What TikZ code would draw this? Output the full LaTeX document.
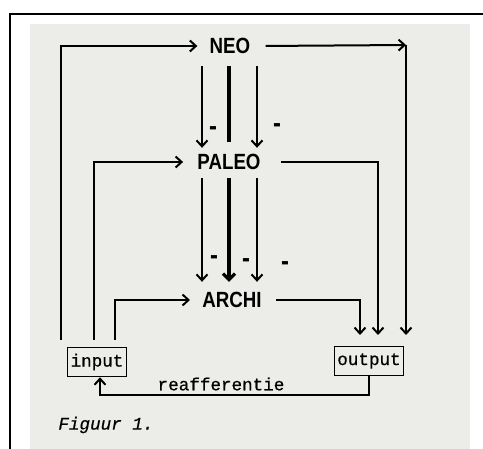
\documentclass[tikz,border=0pt]{standalone}
\usepackage{fontspec}
\usetikzlibrary{arrows.meta}
\newfontfamily\levelfont{Liberation Sans}[FakeStretch=0.85]
\newfontfamily\typefont{Liberation Mono}[FakeBold=0.6]
\definecolor{paper}{RGB}{236,236,232}
\begin{document}
\begin{tikzpicture}[x=0.5pt, y=-0.5pt,
  level/.style={font=\levelfont\bfseries\fontsize{11}{12}\selectfont, inner xsep=6pt, inner ysep=3pt},
  box/.style={draw, line width=0.8pt, font=\typefont\fontsize{8.8}{10}\selectfont, inner xsep=1.5pt, inner ysep=0pt, minimum height=14.5pt},
  plain/.style={font=\typefont\fontsize{8.8}{10}\selectfont, inner sep=0pt},
  minus/.style={font=\levelfont\bfseries\fontsize{14}{15}\selectfont, inner sep=0pt},
  arr/.style={line width=1pt, -{Straight Barb[length=3pt,width=5.5pt]}},
  thickarr/.style={line width=1.6pt, -{Straight Barb[length=3pt,width=6pt]}}
]
  \useasboundingbox (0,0) rectangle (483,449);
  \fill[paper] (30,24) rectangle (470,449);
  \draw[line width=1.2pt] (10,449) -- (10,14) -- (483,14);

  % levels
  \node[level] (neo) at (230,46) {NEO};
  \node[level] (paleo) at (229,162) {PALEO};
  \node[level] (archi) at (232,300) {ARCHI};
  \node[box] (input) at (97,362) {input};
  \node[box] (output) at (369,361) {output};
  \node[plain] (reaflabel) at (221,384) {reafferentie};
  \node[plain, anchor=west] (caption) at (58,425) {\itshape Figuur 1.};

  % columns and corners
  \coordinate (colL) at (202,0);
  \coordinate (colM) at (229,0);
  \coordinate (colR) at (257,0);
  \coordinate (inA) at (61,340);
  \coordinate (inB) at (94,340);
  \coordinate (inC) at (115,340);
  \coordinate (outA) at (360,335);
  \coordinate (outB) at (378,335);
  \coordinate (outC) at (406,335);
  \coordinate (neoTR) at (406,45);
  \coordinate (reaf) at (0,395);

  % neo -> paleo
  \draw[arr, shorten <=3pt] (neo.south -| colL) -- (paleo.north -| colL);
  \draw[line width=1.6pt, shorten <=3pt, shorten >=3pt] (neo.south -| colM) -- (paleo.north -| colM);
  \draw[arr, shorten <=3pt] (neo.south -| colR) -- (paleo.north -| colR);
  \node[minus] (m1) at (213,131) {-};
  \node[minus] (m2) at (277,128) {-};

  % paleo -> archi
  \draw[arr, shorten <=1pt, shorten >=2pt] (paleo.south -| colL) -- (archi.north -| colL);
  \draw[thickarr, shorten <=1pt, shorten >=2pt] (paleo.south -| colM) -- (archi.north -| colM);
  \draw[arr, shorten <=1pt, shorten >=2pt] (paleo.south -| colR) -- (archi.north -| colR);
  \node[minus] (m3) at (214,260) {-};
  \node[minus] (m4) at (246,263) {-};
  \node[minus] (m5) at (285,266) {-};

  % input side
  \draw[arr] (inA) |- (neo.west);
  \draw[arr, shorten >=1pt] (inB) |- (paleo.west);
  \draw[arr] (inC) |- (archi.west);

  % output side
  \draw[arr, shorten <=1.5pt] (neo.east) -- (neoTR);
  \draw[arr] (neoTR) -- (outC);
  \draw[arr, shorten <=4pt] (paleo.east) -| (outB);
  \draw[arr, shorten <=1pt] (archi.east) -| (outA);

  % reafferentie
  \draw[arr] (output.south) -- (output.south |- reaf) -| ([xshift=1.5pt]input.south);
\end{tikzpicture}
\end{document}
